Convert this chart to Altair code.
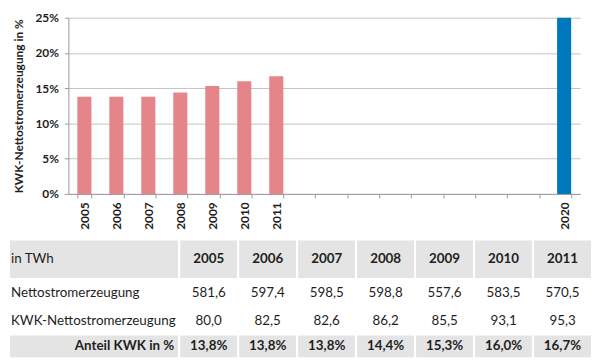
import json
import altair as alt
import pandas as pd

# ---------------- data ----------------
axis_years = ["2005", "2006", "2007", "2008", "2009", "2010", "2011", "2012",
              "2013", "2014", "2015", "2016", "2017", "2018", "2019", "2020"]
hist_years = ["2005", "2006", "2007", "2008", "2009", "2010", "2011"]
share_pct = [13.8, 13.8, 13.8, 14.4, 15.3, 16.0, 16.7]
target_year = "2020"
target_pct = 25.0

netto_twh = [581.6, 597.4, 598.5, 598.8, 557.6, 583.5, 570.5]
kwk_twh = [80.0, 82.5, 82.6, 86.2, 85.5, 93.1, 95.3]
row_labels = ["in TWh", "Nettostromerzeugung", "KWK-Nettostromerzeugung", "Anteil KWK in %"]
y_ticks = [0, 5, 10, 15, 20, 25]

# ---------------- style ----------------
FONT = "Lato"
PINK = "#E5858A"
BLUE = "#0078BE"
TXT = "#1e1e1e"
BAND = "#e4e4e4"


def de(v, pct=False):
    s = f"{v:.1f}".replace(".", ",")
    return s + "%" if pct else s


# ---------------- bar chart ----------------
bar_df = pd.DataFrame({
    "year": hist_years + [target_year],
    "value": share_pct + [target_pct],
    "kind": ["Ist"] * len(hist_years) + ["Ziel"],
})

shown = json.dumps(hist_years + [target_year]).replace('"', "'")

bars = alt.Chart(bar_df).mark_bar().encode(
    x=alt.X("year:N",
            scale=alt.Scale(domain=axis_years, paddingInner=0.56, paddingOuter=0.28),
            axis=alt.Axis(title=None, labelAngle=-90, labelFont=FONT, labelFontSize=12,
                          labelFontWeight="bold", labelColor=TXT, labelPadding=4,
                          labelExpr=f"indexof({shown}, datum.value) >= 0 ? datum.label : ''",
                          tickBand="extent", tickSize=4, tickColor="#999",
                          domainColor="#999", grid=False)),
    y=alt.Y("value:Q",
            scale=alt.Scale(domain=[0, 25], nice=False),
            axis=alt.Axis(values=y_ticks, labelExpr="datum.value + '%'",
                          title="KWK-Nettostromerzeugung in %",
                          titleFont=FONT, titleFontSize=12, titleFontWeight="bold",
                          titleColor=TXT, titlePadding=10,
                          labelFont=FONT, labelFontSize=12, labelFontWeight="bold",
                          labelColor=TXT, labelPadding=6, tickSize=4, tickColor="#999",
                          domainColor="#999", gridColor="#c4c4c4")),
    color=alt.Color("kind:N", scale=alt.Scale(domain=["Ist", "Ziel"], range=[PINK, BLUE]),
                    legend=None),
).properties(width=517, height=178)

# ---------------- table ----------------
ORIGIN = 68          # page x of the plot area's left edge
LEFT, SPLIT, RIGHT = 8, 180, 597
n_cols = len(hist_years)
col_w = (RIGHT - SPLIT) / n_cols
row_edges = [0, 40, 68, 96, 120]
TW = RIGHT - ORIGIN


def rx(px):
    return px - ORIGIN


def col_edges(i):
    return rx(SPLIT + i * col_w), rx(SPLIT + (i + 1) * col_w)


band_rows = []
for r in (0, 3):
    band_rows.append({"x": rx(LEFT), "x2": rx(SPLIT), "y": row_edges[r], "y2": row_edges[r + 1]})
    for i in range(n_cols):
        a, b = col_edges(i)
        band_rows.append({"x": a, "x2": b, "y": row_edges[r], "y2": row_edges[r + 1]})
band_df = pd.DataFrame(band_rows)


def ymid(r):
    return (row_edges[r] + row_edges[r + 1]) / 2


def cx(i):
    a, b = col_edges(i)
    return (a + b) / 2


head_df = pd.DataFrame({"x": [cx(i) for i in range(n_cols)], "y": ymid(0), "t": hist_years})
vals_df = pd.DataFrame({
    "x": [cx(i) for i in range(n_cols)] * 2,
    "y": [ymid(1)] * n_cols + [ymid(2)] * n_cols,
    "t": [de(v) for v in netto_twh] + [de(v) for v in kwk_twh],
})
pct_df = pd.DataFrame({"x": [cx(i) for i in range(n_cols)], "y": ymid(3),
                       "t": [de(v, True) for v in share_pct]})
lab_df = pd.DataFrame({"x": rx(LEFT + 2), "y": [ymid(0), ymid(1), ymid(2)], "t": row_labels[:3]})
lab3_df = pd.DataFrame({"x": [rx(SPLIT - 5)], "y": [ymid(3)], "t": [row_labels[3]]})

xs = alt.Scale(domain=[0, TW], nice=False, zero=False)
ys = alt.Scale(domain=[0, row_edges[-1]], nice=False, zero=False, reverse=True)

rects = alt.Chart(band_df).mark_rect(color=BAND, stroke="white", strokeWidth=2).encode(
    x=alt.X("x:Q", scale=xs, axis=None), x2="x2:Q",
    y=alt.Y("y:Q", scale=ys, axis=None), y2="y2:Q")


def txt(df, align, weight):
    return alt.Chart(df).mark_text(align=align, baseline="middle", font=FONT, fontSize=13.5,
                                   fontWeight=weight, color=TXT).encode(
        x=alt.X("x:Q", scale=xs, axis=None),
        y=alt.Y("y:Q", scale=ys, axis=None),
        text="t:N")


table = alt.layer(
    rects,
    txt(head_df, "center", "bold"),
    txt(vals_df, "center", "normal"),
    txt(pct_df, "center", "bold"),
    txt(lab_df, "left", "normal"),
    txt(lab3_df, "right", "bold"),
).properties(width=TW, height=row_edges[-1])

chart = alt.vconcat(bars, table, spacing=9).properties(
    padding={"left": 0, "top": 2, "right": 0, "bottom": 0},
    background="white",
).configure_view(stroke=None)

chart.save("out.html", embed_options={"renderer": "svg", "actions": False})
